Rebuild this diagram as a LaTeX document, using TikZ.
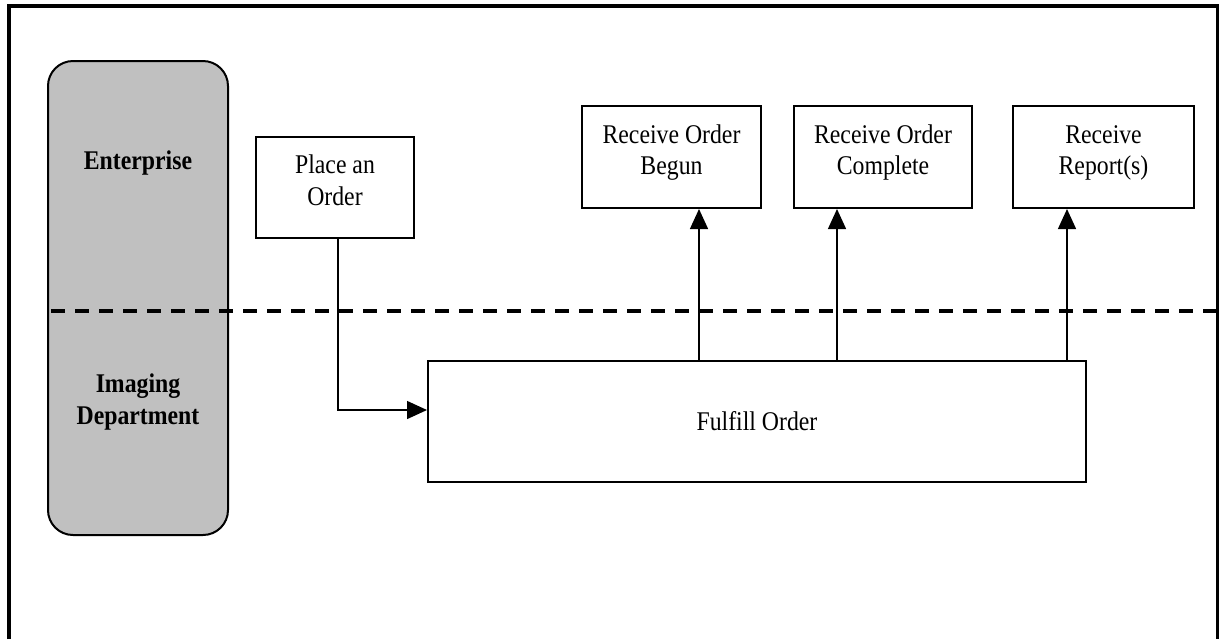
\documentclass[tikz,border=0pt]{standalone}
\usepackage{fontspec}
\setmainfont{Liberation Serif}[FakeStretch=0.88]
\usetikzlibrary{arrows.meta,calc}
\definecolor{lanegrey}{HTML}{C0C0C0}
\begin{document}
\begin{tikzpicture}[x=0.5pt,y=-0.5pt,
  every node/.style={font=\fontsize{13.5}{15.75}\selectfont},
  taskbox/.style={draw, line width=1pt, fill=white, align=center, inner sep=0pt},
  twoline/.style={taskbox, text height=20.5pt, text depth=3pt},
  lanebox/.style={draw, line width=1pt, fill=lanegrey, rounded corners=12.5pt, inner sep=0pt},
  lanetext/.style={font=\fontsize{13.5}{16}\selectfont\bfseries, align=center, inner sep=0pt},
  flow/.style={line width=0.7pt, -{Triangle[length=10pt,width=9pt]}},
  divider/.style={line width=2pt, dash pattern=on 7pt off 5pt},
  frame/.style={line width=2pt}]
\useasboundingbox (0,0) rectangle (1219,639);

% outer frame (open at the bottom)
\draw[frame] (9,639) -- (9,5.5) -- (1217.5,5.5) -- (1217.5,639);

% swimlane header (base anchor sits on the last text line)
\node[lanebox, minimum width=90pt, minimum height=237pt] (lane) at (138,298) {};
\node[lanetext, anchor=base] (ent) at (138,169) {Enterprise};
\node[lanetext, anchor=base] (img) at (138,424) {Imaging\\Department};

% lane divider
\coordinate (dl) at (51,311);
\coordinate (dr) at (1216,311);
\draw[divider] (dl) -- (dr);

% tasks
\node[twoline, minimum width=79pt, minimum height=50.5pt] (place) at (335,187.5) {Place an\\Order};
\node[twoline, minimum width=89.5pt, minimum height=51pt] (begun) at (671.5,157) {Receive Order\\Begun};
\node[twoline, minimum width=89pt, minimum height=51pt] (complete) at (883,157) {Receive Order\\Complete};
\node[twoline, minimum width=90.5pt, minimum height=51pt] (report) at (1103.5,157) {Receive\\Report(s)};
\node[taskbox, minimum width=329pt, minimum height=60.5pt] (fulfill) at (757,421.5) {Fulfill Order};

% connector end points on the receiving boxes
\coordinate (pout) at ($(place.south)+(3,0)$);
\coordinate (fin) at ($(fulfill.west)+(0,-11.5)$);
\coordinate (bin) at ($(begun.south)+(27.5,0)$);
\coordinate (cin) at ($(complete.south)+(-46,0)$);
\coordinate (rin) at ($(report.south)+(-36.5,0)$);

% flows
\draw[flow] (pout) |- (fin);
\draw[flow] (bin |- fulfill.north) -- (bin);
\draw[flow] (cin |- fulfill.north) -- (cin);
\draw[flow] (rin |- fulfill.north) -- (rin);
\end{tikzpicture}
\end{document}
